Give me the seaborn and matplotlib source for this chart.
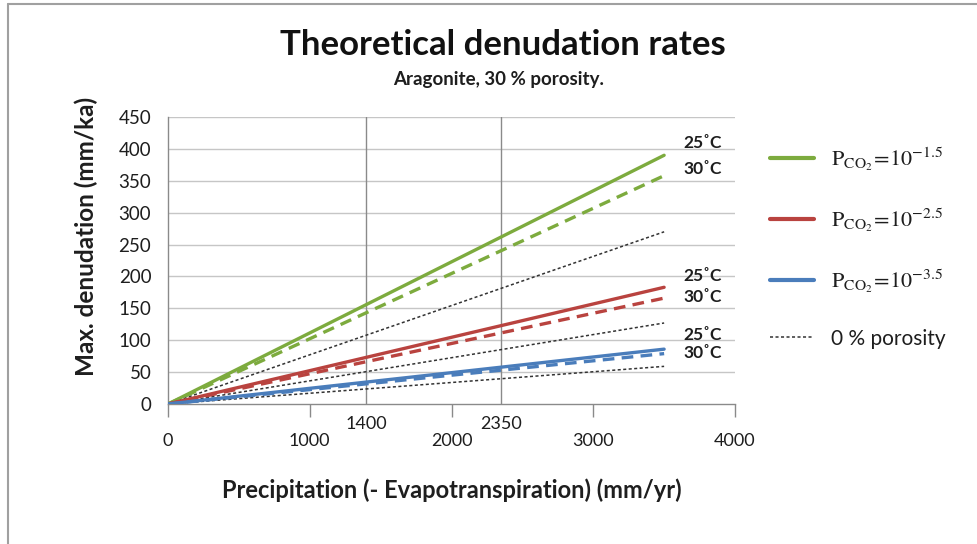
import matplotlib
matplotlib.use("Agg")
import matplotlib.pyplot as plt
import seaborn as sns
import pandas as pd
from matplotlib.lines import Line2D

sns.set_theme(style="white")
plt.rcParams['font.family'] = ['Lato', 'DejaVu Sans']
plt.rcParams['mathtext.fontset'] = 'stix'

# ---- data ----
x_vals = [0, 3500]
green_25 = [0, 390]
green_30 = [0, 358]
green_0por = [0, 270]
red_25 = [0, 183]
red_30 = [0, 166]
red_0por = [0, 127]
blue_25 = [0, 86]
blue_30 = [0, 79]
blue_0por = [0, 59]

x_ticks = [0, 1000, 2000, 3000, 4000]
y_ticks = [0, 50, 100, 150, 200, 250, 300, 350, 400, 450]
marker_lines = [1400, 2350]
legend_labels = [r"$\mathrm{P_{CO_2}\!=\!10^{-1.5}}$",
                 r"$\mathrm{P_{CO_2}\!=\!10^{-2.5}}$",
                 r"$\mathrm{P_{CO_2}\!=\!10^{-3.5}}$",
                 "0 % porosity"]
temp_labels = ["25˚C", "30˚C"]

GREEN = "#7dab3e"
RED = "#b9433f"
BLUE = "#4a7dbb"
TXT = "#1e1e1e"

fig = plt.figure(figsize=(9.77, 5.44), dpi=100)
ax = fig.add_axes([168 / 977, 1 - 404 / 544, (735 - 168) / 977, (404 - 117) / 544])

# gridlines and marker lines
for yv in y_ticks[1:]:
    ax.axhline(yv, color="#c6c6c6", lw=1.0, zorder=0)
for xv in marker_lines:
    ax.axvline(xv, color="#8a8a8a", lw=1.0, zorder=1)

series = [
    (green_0por, "#333333", (0, (2, 1.6)), 1.1),
    (red_0por, "#333333", (0, (2, 1.6)), 1.1),
    (blue_0por, "#333333", (0, (2, 1.6)), 1.1),
    (green_25, GREEN, "-", 2.4),
    (green_30, GREEN, (0, (3.5, 2.2)), 2.4),
    (red_25, RED, "-", 2.4),
    (red_30, RED, (0, (3.5, 2.2)), 2.4),
    (blue_25, BLUE, "-", 2.4),
    (blue_30, BLUE, (0, (3.5, 2.2)), 2.4),
]
for yv, col, ls, lw in series:
    df = pd.DataFrame({"x": x_vals, "y": yv})
    sns.lineplot(data=df, x="x", y="y", ax=ax, color=col, linestyle=ls, lw=lw, zorder=3)

ax.set_xlim(0, 4000)
ax.set_ylim(0, 450)
ax.set_xticks(x_ticks)
ax.set_xticklabels([str(t) for t in x_ticks])
ax.set_yticks(y_ticks)
ax.set_yticklabels([str(t) for t in y_ticks])
ax.tick_params(axis="x", direction="out", length=9, width=1, color="#8a8a8a",
               pad=12, labelsize=13, labelcolor=TXT, bottom=True)
ax.tick_params(axis="y", length=0, pad=12, labelsize=13.5, labelcolor=TXT)
for s in ["top", "right"]:
    ax.spines[s].set_visible(False)
for s in ["left", "bottom"]:
    ax.spines[s].set_color("#8a8a8a")
    ax.spines[s].set_linewidth(1.0)

# special tick labels for marker lines
for xv in marker_lines:
    ax.text(xv, -31, str(xv), ha="center", va="center", fontsize=13,
            color=TXT, clip_on=False)

# temperature labels
temp_pos = [(410, 368), (201, 168), (108, 80)]
for y25, y30 in temp_pos:
    ax.text(3633, y25, temp_labels[0], ha="left", va="center", fontsize=12.5,
            fontweight="bold", color=TXT, clip_on=False,
            family=['Lato', 'DejaVu Sans'])
    ax.text(3633, y30, temp_labels[1], ha="left", va="center", fontsize=12.5,
            fontweight="bold", color=TXT, clip_on=False,
            family=['Lato', 'DejaVu Sans'])

ax.set_xlabel("Precipitation (- Evapotranspiration) (mm/yr)", fontsize=17,
              fontweight="bold", color=TXT, labelpad=21)
ax.set_ylabel("Max. denudation (mm/ka)", fontsize=17.5, fontweight="bold",
              color=TXT)
ax.yaxis.set_label_coords(-0.124, 0.585)

fig.text(503 / 977, 1 - 45 / 544, "Theoretical denudation rates", ha="center",
         va="center", fontsize=25, fontweight="bold", color="#111111")
fig.text(499 / 977, 1 - 80 / 544, "Aragonite, 30 % porosity.", ha="center",
         va="center", fontsize=13.5, fontweight="bold", color=TXT)

# legend
handles = [
    Line2D([], [], color=GREEN, lw=3),
    Line2D([], [], color=RED, lw=3),
    Line2D([], [], color=BLUE, lw=3),
    Line2D([], [], color="#333333", lw=1.1, linestyle=(0, (2, 1.6))),
]
leg = fig.legend(handles, legend_labels, loc="upper left",
                 bbox_to_anchor=(770 / 977, 1 - 145 / 544), frameon=False,
                 borderpad=0, borderaxespad=0,
                 fontsize=16, handlelength=2.0, labelspacing=1.52, handletextpad=0.75)
for t in leg.get_texts()[3:]:
    t.set_fontsize(15)
for t in leg.get_texts():
    t.set_color(TXT)

# figure frame (left and top border)
fig.add_artist(Line2D([8 / 977, 8 / 977], [0, 1 - 4 / 544], color="#a0a0a0", lw=1.5,
                      transform=fig.transFigure))
fig.add_artist(Line2D([8 / 977, 1], [1 - 4 / 544, 1 - 4 / 544], color="#a0a0a0", lw=1.5,
                      transform=fig.transFigure))

fig.savefig("out.png", dpi=100)
